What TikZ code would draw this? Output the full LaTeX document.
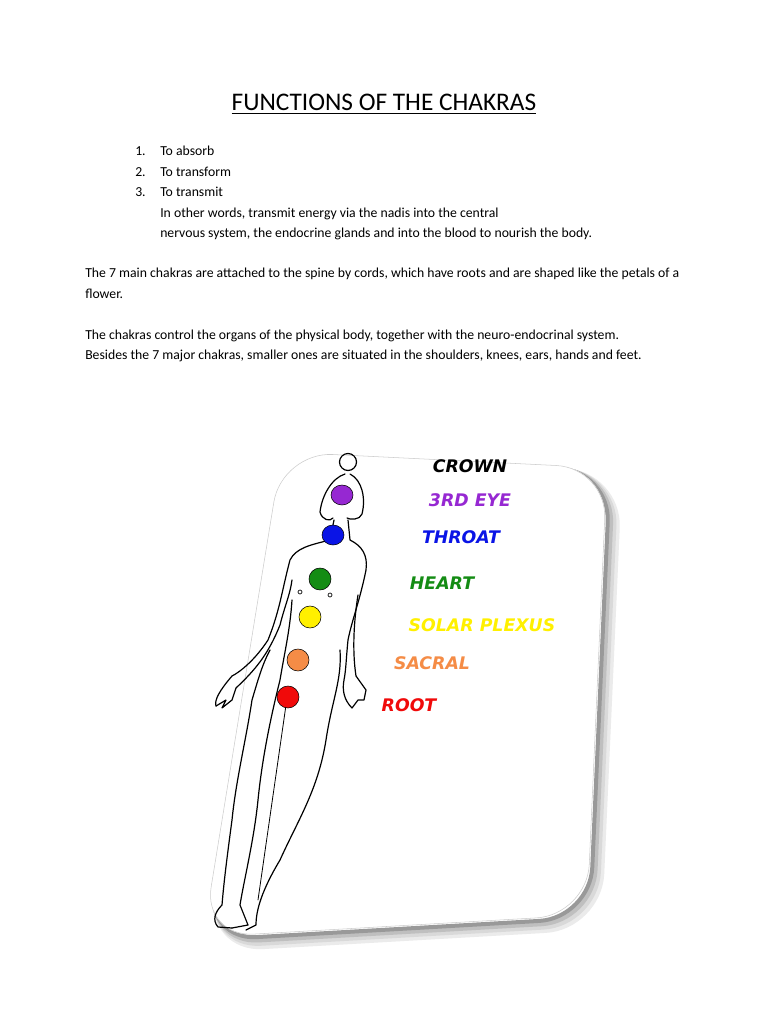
\documentclass[tikz,border=0pt]{standalone}
\usepackage{fontspec}
\setmainfont{Carlito}
\newfontfamily\lab{DejaVu Sans}
\begin{document}
\begin{tikzpicture}[x=0.75pt,y=-0.75pt,
  body/.style={anchor=base west,font=\fontsize{10.3}{12}\selectfont,inner sep=0},
  lbl/.style={font=\lab\bfseries\itshape\fontsize{13}{15}\selectfont,inner sep=0},
  chak/.style={draw=black,line width=0.4pt},
  fig/.style={line width=0.9pt,line join=round,line cap=round}]
\useasboundingbox (0,0) rectangle (768,1024);
\fill[white] (0,0) rectangle (768,1024);
\node[font=\fontsize{19}{21}\selectfont,inner sep=0] (title) at (384,104) {\underline{FUNCTIONS OF THE CHAKRAS}};
\node[body] (n1) at (135,155) {1.}; \node[body] (t1) at (160,155) {To absorb};
\node[body] (n2) at (135,176) {2.}; \node[body] (t2) at (160,176) {To transform};
\node[body] (n3) at (135,196) {3.}; \node[body] (t3) at (160,196) {To transmit};
\node[body] (t4) at (160,217) {In other words, transmit energy via the nadis into the central};
\node[body] (t5) at (160,237) {nervous system, the endocrine glands and into the blood to nourish the body.};
\node[body] (p1) at (85,277) {The 7 main chakras are attached to the spine by cords, which have roots and are shaped like the petals of a};
\node[body] (p2) at (85,298) {flower.};
\node[body] (p3) at (85,339) {The chakras control the organs of the physical body, together with the neuro-endocrinal system.};
\node[body] (p4) at (85,359) {Besides the 7 major chakras, smaller ones are situated in the shoulders, knees, ears, hands and feet.};
% card shadow
\foreach \o/\g in {9/8,7/15,5/25,3/40}{
\draw[black!\g,line width=\o pt,rounded corners=38]
 (282+\o,452+\o) -- (607+\o,468+\o) -- (587+\o,915+\o) -- (203+\o,937+\o) -- cycle;}
\draw[white,fill=white,rounded corners=38] (282,452) -- (607,468) -- (587,915) -- (203,937) -- cycle;
\draw[black!20,rounded corners=38] (282,452) -- (607,468) -- (587,915) -- (203,937) -- cycle;
% figure
\draw[fig] (348,462) circle (8.5);
\draw[fig] (345,474) .. controls (332,478) and (322,495) .. (320,512) .. controls (322,520) and (330,522) .. (333,518);
\draw[fig] (350,474) .. controls (362,480) and (366,498) .. (362,514) .. controls (360,520) and (350,520) .. (347,518);
\draw[fig] (334,520) -- (330,540) .. controls (310,545) and (296,548) .. (290,560)
  .. controls (282,590) and (280,610) .. (268,640) .. controls (255,660) and (240,672) .. (232,676)
  .. controls (220,690) and (214,700) .. (216,706);
\draw[fig] (216,706) -- (226,700) -- (222,708) -- (232,700) -- (236,688);
\draw[fig] (348,520) -- (350,540) .. controls (362,546) and (368,555) .. (366,570)
  .. controls (360,600) and (352,620) .. (348,640) .. controls (346,660) and (346,670) .. (344,680)
  .. controls (342,690) and (344,700) .. (352,708) -- (358,700) -- (364,700) -- (366,690) -- (356,676);
\draw[fig] (236,688) .. controls (255,670) and (268,655) .. (280,625) .. controls (285,605) and (290,595) .. (292,580);
\draw[fig] (356,676) .. controls (352,650) and (354,620) .. (358,595);
\draw[fig] (292,600) .. controls (290,630) and (285,650) .. (280,680) .. controls (270,720) and (262,760) .. (258,800)
  .. controls (254,840) and (244,880) .. (240,905) -- (248,925) -- (232,928);
\draw[fig] (340,650) .. controls (342,680) and (332,700) .. (326,740) .. controls (318,790) and (298,820) .. (280,860)
  .. controls (262,890) and (256,910) .. (256,925) -- (246,930);
\draw[fig] (232,928) -- (218,927) .. controls (212,920) and (215,912) .. (222,905)
  .. controls (224,880) and (228,850) .. (232,820) .. controls (236,780) and (246,740) .. (252,700)
  .. controls (258,680) and (262,665) .. (270,650);
\draw[fig,line width=0.6pt] (286,705) -- (258,900);
\draw[fig,line width=0.5pt] (300,592) circle (2) (330,595) circle (2);
% chakras
\fill[chak,fill={rgb,255:red,150;green,40;blue,210}] (342,495) ellipse (11 and 10);
\fill[chak,fill={rgb,255:red,10;green,20;blue,230}] (333,535) ellipse (11 and 10);
\fill[chak,fill={rgb,255:red,20;green,140;blue,20}] (320,579) ellipse (11 and 11);
\fill[chak,fill={rgb,255:red,255;green,240;blue,0}] (310,617) ellipse (11 and 11);
\fill[chak,fill={rgb,255:red,245;green,140;blue,70}] (298,660) ellipse (11 and 11);
\fill[chak,fill={rgb,255:red,240;green,10;blue,10}] (288,697) ellipse (11 and 11);
% labels
\node[lbl,text=black] (crown) at (470,466) {CROWN};
\node[lbl,text={rgb,255:red,150;green,40;blue,210}] (eye) at (470,500) {3RD EYE};
\node[lbl,text={rgb,255:red,10;green,20;blue,230}] (throat) at (461,537) {THROAT};
\node[lbl,text={rgb,255:red,20;green,140;blue,20}] (heart) at (442,583) {HEART};
\node[lbl,text={rgb,255:red,255;green,240;blue,0}] (solar) at (482,625) {SOLAR PLEXUS};
\node[lbl,text={rgb,255:red,245;green,140;blue,70}] (sacral) at (432,663) {SACRAL};
\node[lbl,text={rgb,255:red,240;green,10;blue,10}] (root) at (409,705) {ROOT};
\end{tikzpicture}
\end{document}
